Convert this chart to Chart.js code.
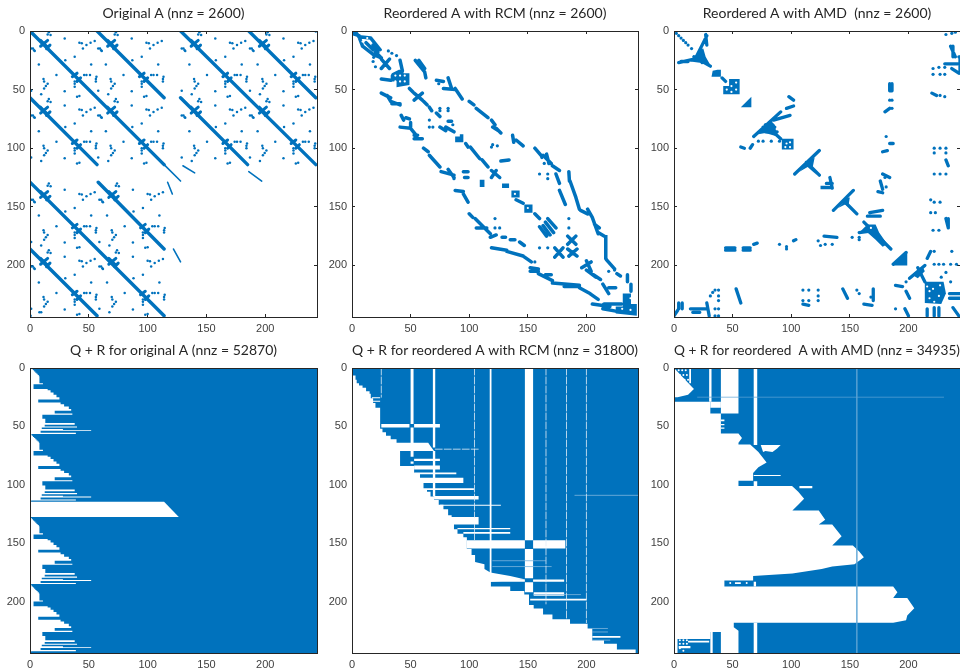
<!DOCTYPE html>
<html>
<head>
<meta charset="utf-8">
<title>Sparse matrix reorderings</title>
<script src="https://cdn.jsdelivr.net/npm/chart.js@4"></script>
<style>
  html, body { margin: 0; background: #fff; overflow: hidden; width: 960px; height: 671px; }
  canvas { position: absolute; }
</style>
</head>
<body>
<script>
var tickValues = [0, 50, 100, 150, 200];
var titles = [
  'Original A (nnz = 2600)',
  'Reordered A with RCM (nnz = 2600)',
  'Reordered A with AMD  (nnz = 2600)',
  'Q + R for original A (nnz = 52870)',
  'Q + R for reordered A with RCM (nnz = 31800)',
  'Q + R for reordered  A with AMD (nnz = 34935)'
];

// Original A: long diagonals [x0, y0, x1, y1]
var origDiagonals = [
  [0,0,114,114],[57,0,114,57],[0,57,57,114],
  [128,0,243,114],[186,0,243,57],[128,57,185,114],
  [0,129,114,243],[58,129,114,186],[0,186,57,243]
];
var origThin = [[114,114,128,128],[130,115,140,121],[186,120,197,128],[117,129,121,139],[122,186,128,197]];
// the same 57 x 57 tile shows up at these corners in the picture
var origBlockCorners = [[0,0],[57,0],[0,57],[57,57],[128,0],[186,0],[128,57],[186,57],[0,129],[58,129],[0,186],[58,186]];
var origTileStars = [[9,13,15,8],[9,8,15,14],[14,15,17,12],[36,39,40,36],[40,43,43,40]];
var origTileDots = [
  [16,1],[17.5,3.5],[15,3],[29.5,6.5],[42,10],[44,10.5],[55,8.5],[51.5,10],[48,12],[45,15],
  [1,15],[2.5,15],[4,17],[3.5,16.5],[38,22],[7.5,28.5],[30,25],[52,28.5],[22.5,37.5],
  [46,37.5],[48,37.5],[51,37.5],[56.5,39],[56,41],[56,43],[11.5,41],[12,43],[15,45],[13.5,47],[12,49],
  [9.5,54],[29.5,51.5],[38,43],[38,45],[38,47.5],[40,56],[42,55.5],[1,51]
];

// RCM ordering
var rcmStrokes = [
  [0,2,6,4],[3,1,6,5],[6,5,16,6],[6,5,9,13],[9,13,18,20],[16,6,24,16],[12,10,18,16],[18,12,22,18],[18,20,25,23],[20,18,24,22],
  [25,24,32,32],[32,24,25,32],[41,25,43,34],[54,25,62,35],[57,25,62,32],[62,35,63,40],[25,41,33,42],
  [49,49,52,52],[53,53,60,59],[53,59,60,53],[25,53,33,57],[30,55,33,60],[33,60,41,63],[34,62,41,62],
  [61,60,64,63],[66,65,68,68],[72,70,75,73],[72,42,78,43],[82,40,85,49],[78,49,88,50],[88,49,94,58],
  [100,60,104,63],[106,66,116,74],[119,76,122,80],[120,82,125,85],[123,83,127,87],[42,72,44,76],[46,74,49,75],
  [41,82,50,83],[50,78,50,82],[50,83,54,88],[53,89,56,89],[53,92,60,92],[75,82,80,85],[82,77,85,77],[80,82,87,86],
  [97,96,99,99],[101,99,109,109],[111,110,116,116],
  [61,100,65,103],[66,106,75,116],[76,120,87,123],[82,118,87,125],[95,120,99,120],[96,125,99,125],
  [127,111,134,110],[119,119,126,125],[123,119,119,125],
  [137,89,138,95],[140,93,146,98],[156,100,162,107],[163,106,170,113],[166,105,168,113],[171,115,177,119],
  [174,122,177,130],[177,136,182,148],[185,120,185.5,128],[186,128,191,142],[191,142,194,152],
  [195,153,201,156],[201,152,205,159],[205,159,210,173],[207,165,211,168],[210,172,215,175],[217,195,224,203],
  [88,136,95,137],[95,139,99,146],[140,144,146,147],[156,156,160,160],
  [100,156,103,159],[105,160,115,170],[106,168,115,168],[115,170,118,173],[118,176,123,174],[128,176,131,176],[135,178,139,178],[143,180,147,183],
  [160,167,166,175],[163,166,169,174],[167,160,174,168],[165,163,172,172],
  [184,175,191,182],[191,175,184,182],[184,186,192,192],[192,186,185,192],[173,185,180,193],[180,185,173,193],
  [119,185,132,187],[132,188,146,192],[146,192,153,197],[152,202,159,203],[152,205,159,205],[159,207,171,213],[165,208,170,208],
  [171,215,194,217],[181,218,194,218],[194,219,203,224],[203,224,210,229],[205,233,220,235],[214,237,225,239],
  [196,202,204,197],[200,196,204,205],[206,208,212,212],[200,204,208,210],[214,216,219,224],[219,219,225,219],[226,207,229,209],[235,208,235,214],
  [238,216,238,222],[215,233,230,233]
];
// solid clusters, each an outline of [x, y] corners
var rcmShapes = [
  [[88,90],[92,90],[92,88],[95,88],[95,95],[88,95]],
  [[136,136],[143,136],[143,142],[136,142]],
  [[147,148],[154,148],[154,155],[147,155]],
  [[128,130],[134,130],[134,134],[128,134]],
  [[34,36],[40,33],[44,33],[44,36],[49,36],[49,46],[44,47],[38,48],[38,43],[33,43],[33,38]],
  [[225,235],[231,235],[231,224],[238,224],[238,233],[243,233],[243,243],[225,241]],
  [[109,127],[113,127],[113,133],[109,133]],
  [[215,174],[218,174],[218,195],[215,195]]
];
var rcmDots = [
  [18.5,22.5],[18,26],[20,30.5],[31,17],[34,19],[38,21],[75,66],[82,66],[75,68],[82,68],[74,45],[66,76],[66,82],[69,82],
  [86,80],[87,126],[119,99],[120,97],[124,98],[160,122],[167,122],[167,126],[185,160],[185,168],[122,160],[122,168],[126,168],
  [160,185],[167,185],[156,197],[162,108],[164,113],[224,204],[219,205]
];
var rcmHoles = [[237.6,228],[230.5,237],[237.6,238],[150,151],[139,139],[37,38],[41,38],[45,38],[37,43],[41,43],[45,43],[9,9],[13,6]];

// AMD ordering
var amdStrokes = [
  [18,24,28,4],[27,3,28,12],[23,15,24,27],[4,27,17,24],[6,26,12,26],[17,22,31,30],[41,40,44,43],
  [98,56,102,59],[96,66,102,64],
  [68,90,91,69],[78,80,91,92],[76,82,86,82],[78,86,88,86],[85,76,99,72],[57,99,60,100],[65,100,67,97],
  [103,122,124,102],[113,112,124,123],[133,125,135,134],[130,130,135,130],
  [136,153,153,136],[145,145,156,156],[162,163,185,186],[158,172,172,170],
  [167,155,178,153],[165,158,176,158],
  [184,45,184,51],[186,45,186,51],[180,69,184,66],[184,96,187,96],[178,103,182,102],[178,122,184,125],[176,128,178,135],[174,137,178,138],
  [44,185,52,185],[44,187,52,187],[59,185,65,185],[59,187,65,187],[68,182,71,181],[102,179,104,178],[128,175,139,176],
  [187,199,198,189],[201,211,214,200],[216,194,219,188],[208,202,214,214],
  [235,224,244,224],[235,228,244,228],[236,13,240,22],[238,13,238,22],[231,28,242,28],[237,32,243,36],[244,22,244,34],
  [220,53,224,55],[232,110,234,115],[232,160,234,168],[234,160,234,168],
  [14,237,27,237],[16,240,22,240],[28,232,30,243],[0,243,4,237],[4,232,4,237],[7,232,7,237],[53,220,57,232],[110,233,115,234],
  [144,220,148,228],[170,220,170,230],[162,233,169,234],[189,217,195,218],[198,222,201,228],[197,237,200,243],[216,237,216,243],[222,236,222,243],[226,236,226,243],[238,236,243,243]
];
var amdShapes = [
  [[14,26],[20,19],[25,15],[27,22],[31,29],[22,27]],
  [[33,34],[37,33],[40,33],[40,39],[32,39]],
  [[42,47],[47,47],[47,41],[56,41],[56,54],[42,54]],
  [[57,65],[66,56],[66,65]],
  [[92,92],[102,92],[102,101],[92,101]],
  [[72,88],[82,76],[86,80],[88,90],[78,87]],
  [[107,120],[116,110],[120,108],[118,118],[122,123],[114,116]],
  [[125,132],[135,132],[135,135],[125,135]],
  [[140,151],[148,142],[150,142],[149,148],[153,153],[146,148]],
  [[158,172],[165,165],[172,165],[175,172],[182,182],[178,184],[172,178],[165,172]],
  [[187,200],[199,188],[199,200]],
  [[203,208],[212,201],[214,205],[208,211]],
  [[214,214],[230,214],[232,224],[228,233],[214,232]]
];
var amdDots = [
  [2,2],[4,4],[6,6],[8,8],[10,10],[12,12],[15,15],[232,3],[240,1],[237,2],[243,22],[221,32],[226,31],[231,31],[221,37],[227,37],[231,37],
  [227,55],[231,56],[184,59],[186,59],[186,66],[181,90],[83,94],[72,94],[76,94],[90,94],[222,100],[222,104],[227,100],[232,100],[232,104],
  [222,122],[227,122],[232,122],[219,144],[222,146],[227,146],[219,155],[223,155],[221,170],[226,170],[180,125],[181,133],[152,176],[158,176],[158,178],
  [90,182],[96,186],[96,184],[123,179],[125,183],[129,182],[135,182],[222,188],[237,188],[222,199],[226,199],[230,199],[236,199],[241,199],
  [31,226],[33,223],[35,221],[38,221],[38,226],[38,230],[110,221],[110,230],[115,221],[115,230],[123,221],[123,226],[123,230],
  [156,221],[158,224],[189,237],[168,227],[198,214],[232,206],[236,214],[228,210],[35,237],[38,237],[35,243],[38,243]
];
var amdHoles = [
  [221,220],[226,226],[218,228],[227,217],[216,218],[222,231],[218,222],[49,47],[53,50],[45,50],[49,52],[53,44],[168,168],[96,96],[99,99],[95,99],[99,95]
];

// Q + R, original A: white rows [yTop, yBottom, xRight] of one 57-row tile
var qrOrigRuns = [
  [0,1,1.5],[1,2,2.5],[2,3,3.5],[3,4,4.5],[4,5,5.5],[5,6,6.5],[6,7,7.5],[7,13,8],[13,14,11],[14,18,3],
  [18,19,15],[19,21,17.5],[21,23,20],[23,25,22.5],[25,27,25],[27,29.5,7],[29.5,31,26],[31,33,29],[33,35,33],[35,36.5,35],
  [36.5,39,21],[39,40,36],[40,43.5,10.5],[43.5,47,13],[47,48.5,38],[48.5,50,12.5],[50,51,40],[51,52.3,10],[52.3,53,28],
  [53,53.8,52],[53.8,55.5,9],[55.5,56.5,39],[56.5,57,1]
];
var qrOrigBlockRows = [0, 57, 128.5, 186];
var qrOrigBand = [[0,114.5],[114,114.5],[126.5,127.5],[0,127.5]];

// Q + R, RCM: white outline below the fill, rows and columns
var qrRcmOutline = [
  [0,6.5],[3,6.5],[3,10],[4,10],[4,13],[6,13],[6,15],[9,15],[9,17],[12,17],[12,20],[15,20],[15,22],[16,22],[16,26],[18,26],[18,30],[20,30],[20,34],[24,34],
  [24,52],[26,52],[26,55],[29,55],[29,58],[33,58],[33,61],[38,61],[38,64],[65,64],[67,67],[70,71],[41,71],[41,84],[53,84],[53,90],[58,90],[58,94],[95,94],[95,98.5],
  [61,98.5],[61,103],[64,103],[64,106],[67,106],[67,110],[70,110],[70,113],[74,113],[74,117],[78,117],[78,121],[82,121],[82,126],[85,126],[85,127.5],[108,127.5],[108,134],
  [87,134],[87,138],[90,138],[90,142],[95,142],[95,145],[98,145],[98,155],[102,155],[102,160],[105,160],[105,166],[113,168],[113,172],[118,175],[135,178],[148,181],
  [118.5,183],[118.5,187],[135,187],[135,191],[147,191],[147,194],[151,194],[151,203],[155,203],[155,206],[163,206],[163,211],[171,211],[171,215],[186,215],[186,219],
  [201,219],[201,223],[205,223],[205,233],[215,233],[215,236],[226,236],[226,241],[242,241],[242,244],[0,244]
];
var qrRcmWhiteRects = [
  [17,25,24,26],[17,28,24,29],[25,48,49,51],[53,48,75,51],[53,77.7,75,79.7],[53,83.5,75,87],[53,89.5,89,91],[64,103,104,104.5],[70,109.5,108,112.5],
  [75,117,127,118],[90,137,135,138],[95,140.5,135,142],[98,147.5,147.5,154.5],[154.5,147.5,182,154.5],[147.5,0,154.5,147.5],[147.5,155,154.5,180],[147.5,183.5,154.5,192],
  [118,181,147.5,183],[154.5,181,181,183],[155,192,181,195],[152,197.5,200,199],[205,229.5,229,231],
  [50,0,52.5,48],[50,51,52.5,76],[50,80,52.5,82],[69,0,71,68],[69,71,71,110],[117.5,0,119,178]
];
var qrRcmSlits = [[104.5,0,104.5,128],[104.5,134,104.5,147],[25,0,25,25],[165.5,0,165.5,202],[183,0,183,215],[200,0,200,218],[71,69.5,108,69.5]];
var qrRcmPale = [[190,109,244,109],[120,165,165,165],[120,170,170,170],[155,194,195,194],[205,223,218,223],[205,226,218,226],[205,233,220,233]];

// Q + R, AMD
var qrAmdOutline = [
  [0,29],[31,29],[31,39],[40,39],[40,56],[55,56],[58,60],[55,64],[55,65.5],[65,65.5],[72,72],[79,81],[72,85],[67.5,90],[67.5,96.5],[55,96.5],[55,101],
  [100.7,101],[106,106],[111,112],[106,117],[101,122],[123.5,122],[129,130],[123.5,134],[135,134],[143,144],[135,152],[152.6,152],[158,157],[162,162],[154,168],
  [135,170],[126,172],[101,176],[67.5,178],[67.5,182],[43,182],[43,187],[187,187],[190.6,192],[187,197],[199,197],[205,205.6],[199,212],[198,216],[187,218],
  [51,218],[51,222],[55,225],[55,244],[40,244],[40,226],[31,226],[31,232],[0,232]
];
var qrAmdTriangle = [[0,0],[17,18],[12,23],[3,25],[0,25]];
var qrAmdNotch = [[74,66],[91,66],[88,69],[84,72],[78,71],[76,72]];
var qrAmdWhiteRects = [
  [40,0,55,39],[30,0,32,29],[68,0,71,66],[13,0,14.5,13],[31,29,40,34],[40,44,43,45.5],[40,48,43,49],[40,51,43,52],[68,91.5,91,92.5],[107,101,118,103],
  [68,97,71,101],[68,183,70,187],[68,218,71,244],[31,226,33,244],[0,232,3,244],[12,233.5,30,235],[52,183.5,57,185],[4,238,14,240]
];
var qrAmdWhiteDots = [[4,2],[7,2],[10,2],[5,6],[8,6],[11,6],[9,10],[12,10],[5,233],[8,233],[11,233],[5,236],[8,236],[11,236],[5,240],[8,242],[48,184],[62,184]];
var qrAmdPale = [[156,0,156,244],[20,25,230,25]];

var blue = '#0072bd';
var boxes = [
  { left: 29.5, top: 31, width: 287, height: 286 },
  { left: 351.5, top: 31, width: 286, height: 286 },
  { left: 673.5, top: 31, width: 286, height: 286 },
  { left: 29.5, top: 368, width: 287, height: 285 },
  { left: 351.5, top: 368, width: 286, height: 285 },
  { left: 673.5, top: 368, width: 286, height: 285 }
];

function pts(list) {
  return list.map(function(p) { return { x: p[0], y: p[1] }; });
}

// several strokes in one dataset, broken by gaps
function strokeSet(list, width, color, dash) {
  var data = [];
  list.forEach(function(s) {
    data.push({ x: s[0], y: s[1] }, { x: s[2], y: s[3] }, { x: NaN, y: NaN });
  });
  return {
    data: data, showLine: true, spanGaps: false, pointRadius: 0, borderColor: color,
    borderWidth: width, borderDash: dash || [], borderCapStyle: 'round', fill: false
  };
}

function dotSet(list, radius, color) {
  return { data: pts(list), showLine: false, pointRadius: radius, pointBorderWidth: 0, pointBackgroundColor: color };
}

function polygon(list, color) {
  var closed = list.concat([list[0]]);
  return {
    data: pts(closed), showLine: true, pointRadius: 0, borderWidth: 0, tension: 0,
    borderColor: color, backgroundColor: color, fill: 'shape'
  };
}

function rect(r, color) {
  return polygon([[r[0], r[1]], [r[2], r[1]], [r[2], r[3]], [r[0], r[3]]], color);
}

function origPanel() {
  var sets = [strokeSet(origDiagonals, 3.4, blue), strokeSet(origThin, 1.6, blue)];
  var stars = [], dots = [];
  origBlockCorners.forEach(function(c) {
    origTileStars.forEach(function(s) { stars.push([s[0] + c[0], s[1] + c[1], s[2] + c[0], s[3] + c[1]]); });
    origTileDots.forEach(function(d) { dots.push([d[0] + c[0], d[1] + c[1]]); });
  });
  sets.push(strokeSet(stars, 3, blue));
  sets.push(dotSet(dots.concat([[0.5,243],[8,240],[243,0.5]]), 1.25, blue));
  return sets;
}

function sparsePanel(holes, strokes, width, shapes, dots) {
  var sets = [dotSet(holes, 1.1, '#fff'), strokeSet(strokes, width, blue), dotSet(dots, 1.6, blue)];
  shapes.forEach(function(s) { sets.push(polygon(s, blue)); });
  return sets;
}

function qrOrigPanel() {
  var sets = [polygon(qrOrigBand, '#fff')];
  qrOrigBlockRows.forEach(function(b) {
    var outline = [[0, b]];
    qrOrigRuns.forEach(function(r) {
      outline.push([r[2], b + r[0]], [r[2], b + r[1]]);
    });
    outline.push([0, b + 57]);
    sets.push(polygon(outline, '#fff'));
  });
  sets.push(rect([0, 0, 244, 244], blue));
  return sets;
}

function qrRcmPanel() {
  var sets = [strokeSet(qrRcmSlits, 0.8, '#e3eff8', [7, 2]), strokeSet(qrRcmPale, 0.8, '#7db5dd')];
  qrRcmWhiteRects.forEach(function(r) { sets.push(rect(r, '#fff')); });
  sets.push(polygon(qrRcmOutline, '#fff'));
  sets.push(rect([0, 0, 244, 244], blue));
  return sets;
}

function qrAmdPanel() {
  var sets = [dotSet(qrAmdWhiteDots, 1, '#fff'), strokeSet(qrAmdPale, 0.7, '#5fa5d6')];
  qrAmdWhiteRects.forEach(function(r) { sets.push(rect(r, '#fff')); });
  sets.push(polygon(qrAmdNotch, '#fff'));
  sets.push(polygon(qrAmdTriangle, '#fff'));
  sets.push(polygon(qrAmdOutline, '#fff'));
  sets.push(rect([0, 0, 244, 244], blue));
  return sets;
}

var panels = [
  origPanel(),
  sparsePanel(rcmHoles, rcmStrokes, 3.5, rcmShapes, rcmDots),
  sparsePanel(amdHoles, amdStrokes, 3.3, amdShapes, amdDots),
  qrOrigPanel(),
  qrRcmPanel(),
  qrAmdPanel()
];

function setTicks(scale) {
  scale.ticks = tickValues.map(function(v) { return { value: v }; });
}

function axis(position, reverse, showLabels, extraFit) {
  return {
    type: 'linear', position: position, min: 0, max: 244, reverse: reverse,
    afterBuildTicks: setTicks,
    afterFit: extraFit,
    border: { display: true, color: '#262626', width: 1, z: 1 },
    grid: { drawOnChartArea: false, drawTicks: true, tickLength: -3, color: '#262626' },
    ticks: {
      display: showLabels, padding: 8, maxRotation: 0, color: '#404040',
      font: { family: 'Liberation Sans', size: 11 }
    }
  };
}

panels.forEach(function(sets, i) {
  var box = boxes[i];
  var canvas = document.createElement('canvas');
  var padLeft = 29, padTop = 31, padBottom = 18, padRight = 6;
  canvas.style.left = (box.left - padLeft) + 'px';
  canvas.style.top = (box.top - padTop) + 'px';
  canvas.width = box.width + padLeft + padRight;
  canvas.height = box.height + padTop + padBottom;
  document.body.appendChild(canvas);

  new Chart(canvas.getContext('2d'), {
    type: 'scatter',
    data: { datasets: sets },
    options: {
      responsive: false,
      animation: false,
      events: [],
      layout: { padding: { right: padRight } },
      plugins: {
        legend: { display: false },
        tooltip: { enabled: false },
        title: {
          display: true, text: titles[i], fullSize: false, color: '#262626',
          font: { family: 'Lato', size: 14, weight: 'normal', lineHeight: 1.2 },
          padding: { top: 5, bottom: 9.2 }
        }
      },
      scales: {
        x: axis('bottom', false, true, function(s) { s.height = padBottom; }),
        y: axis('left', true, true, function(s) { s.width = padLeft; }),
        xTop: axis('top', false, false, function(s) { s.height = 0; }),
        yRight: axis('right', true, false, function(s) { s.width = 0; })
      }
    }
  });
});
</script>
</body>
</html>
